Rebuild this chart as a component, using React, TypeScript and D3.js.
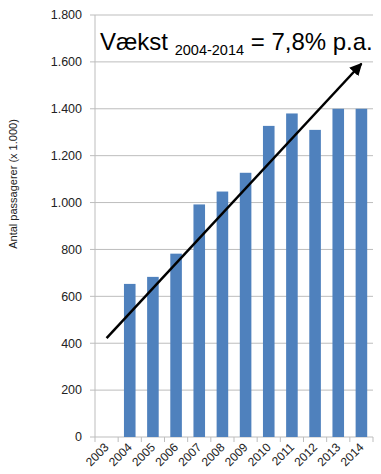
import React from "react";
import * as d3 from "d3";

const years = ["2003","2004","2005","2006","2007","2008","2009","2010","2011","2012","2013","2014"];
const passengers: (number | null)[] = [null, 653, 683, 782, 992, 1047, 1127, 1327, 1380, 1310, 1400, 1400];
const yTicks = [0, 200, 400, 600, 800, 1000, 1200, 1400, 1600, 1800];
const trendYears = ["2003", "2014"];
const trendValues = [422, 1592];

const W = 381, H = 474;
const left = 95, right = 373, top = 15, bottom = 437;

export default function App() {
  const x = d3.scaleBand<string>().domain(years).range([left, right]).paddingInner(0).paddingOuter(0);
  const y = d3.scaleLinear().domain([0, 1800]).range([bottom, top]);
  const bw = x.bandwidth();
  const barW = bw * 0.5;
  const fmt = (v: number) => d3.format(",")(v).replace(/,/g, ".");
  const tx1 = x(trendYears[0])! + bw / 2;
  const ty1 = y(trendValues[0]);
  const tx2 = x(trendYears[1])! + bw / 2;
  const ty2 = y(trendValues[1]);
  return (
    <svg width={W} height={H} style={{ position: "absolute", left: 0, top: 0 }} fontFamily="Liberation Sans, Arial, sans-serif">
      <defs>
        <marker id="ah" viewBox="0 0 10 10" refX="9" refY="5" markerWidth="5" markerHeight="5" orient="auto">
          <path d="M0,0 L10,5 L0,10 z" fill="#000" />
        </marker>
      </defs>
      <rect width={W} height={H} fill="#fff" />
      {yTicks.map((t) => (
        <g key={t}>
          {t > 0 && <line x1={left} x2={right} y1={y(t)} y2={y(t)} stroke="#bdbdbd" strokeWidth={1} />}
          <line x1={left - 5} x2={left} y1={y(t)} y2={y(t)} stroke="#bdbdbd" />
          <text x={left - 13} y={y(t)} dy="0.35em" textAnchor="end" fontSize={12.5} fill="#222">{fmt(t)}</text>
        </g>
      ))}
      <line x1={left} x2={left} y1={top} y2={bottom} stroke="#bdbdbd" />
      <line x1={left} x2={right} y1={bottom} y2={bottom} stroke="#bdbdbd" />
      {years.map((yr) => (
        <line key={"t" + yr} x1={x(yr)!} x2={x(yr)!} y1={bottom} y2={bottom + 5} stroke="#bdbdbd" />
      ))}
      <line x1={right} x2={right} y1={bottom} y2={bottom + 5} stroke="#bdbdbd" />
      {years.map((yr, i) =>
        passengers[i] == null ? null : (
          <rect key={yr} x={x(yr)! + (bw - barW) / 2} width={barW} y={y(passengers[i]!)} height={bottom - y(passengers[i]!)} fill="#4f81bd" />
        )
      )}
      {years.map((yr) => {
        const cx = x(yr)! + bw / 2 + 3;
        const cy = bottom + 11;
        return (
          <text key={"l" + yr} x={cx} y={cy} textAnchor="end" fontSize={12} fill="#222" transform={`rotate(-45 ${cx} ${cy})`}>{yr}</text>
        );
      })}
      <text transform={`translate(17 184) rotate(-90)`} textAnchor="middle" fontSize={11} fill="#222">Antal passagerer (x 1.000)</text>
      <line x1={tx1} y1={ty1} x2={tx2} y2={ty2} stroke="#000" strokeWidth={2.5} markerEnd="url(#ah)" />
      <text x={100} y={50} fontSize={24} fill="#000">
        Vækst <tspan fontSize={14.5} dy={5}>2004-2014</tspan><tspan dy={-5}> = 7,8% p.a.</tspan>
      </text>
    </svg>
  );
}
